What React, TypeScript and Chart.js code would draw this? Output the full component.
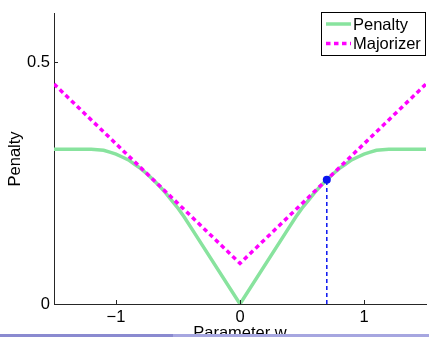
import React, { useEffect, useRef } from "react";
import { Chart, registerables } from "chart.js";

Chart.register(...registerables);

// Parameter w sample positions and the penalty curve
const wValues = [
  -1.5, -1.2, -1.15, -1.1, -1.05, -1.0, -0.95, -0.9, -0.85, -0.8, -0.75, -0.7,
  -0.65, -0.6, -0.55, -0.5, -0.45, -0.4, 0, 0.4, 0.45, 0.5, 0.55, 0.6, 0.65,
  0.7, 0.75, 0.8, 0.85, 0.9, 0.95, 1.0, 1.05, 1.1, 1.15, 1.2, 1.5,
];
const penaltyValues = [
  0.32, 0.32, 0.319, 0.318, 0.314, 0.31, 0.304, 0.298, 0.289, 0.28, 0.269,
  0.257, 0.244, 0.23, 0.214, 0.198, 0.18, 0.16, 0, 0.16, 0.18, 0.198, 0.214,
  0.23, 0.244, 0.257, 0.269, 0.28, 0.289, 0.298, 0.304, 0.31, 0.314, 0.318,
  0.319, 0.32, 0.32,
];

// Majorizer (tangent at the current point)
const majorizerW = [-1.5, 0, 1.5];
const majorizerValues = [0.455, 0.084, 0.455];

// Current point
const currentW = [0.7];
const currentValue = [0.257];

// Tick labels
const xTicks = [-1, 0, 1];
const yTicks = [0, 0.5];

const legendLabels = ["Penalty", "Majorizer"];
const xTitle = "Parameter w";
const yTitle = "Penalty";

const GREEN = "#88e39e";
const MAGENTA = "#ff00ff";
const BLUE = "#0a14f0";
const AXIS = "#262626";
const FONT = "16.5px 'Liberation Sans', Arial, sans-serif";

export default function App() {
  const canvasRef = useRef<HTMLCanvasElement | null>(null);

  useEffect(() => {
    const canvas = canvasRef.current;
    if (!canvas) return;

    const decor = {
      id: "decor",
      afterDatasetsDraw(chart: any) {
        const ctx = chart.ctx;
        const xs = chart.scales.x;
        const ys = chart.scales.y;
        const area = chart.chartArea;
        ctx.save();
        // inward tick marks
        ctx.strokeStyle = AXIS;
        ctx.lineWidth = 1;
        ctx.beginPath();
        xTicks.forEach((t) => {
          const px = Math.round(xs.getPixelForValue(t)) + 0.5;
          ctx.moveTo(px, area.bottom);
          ctx.lineTo(px, area.bottom - 4);
        });
        yTicks.forEach((t) => {
          const py = Math.round(ys.getPixelForValue(t)) + 0.5;
          ctx.moveTo(area.left, py);
          ctx.lineTo(area.left + 4, py);
        });
        ctx.stroke();

        // axis titles
        ctx.fillStyle = "#000";
        ctx.font = FONT;
        ctx.textAlign = "center";
        ctx.textBaseline = "alphabetic";
        ctx.fillText(xTitle, xs.getPixelForValue(0), 337.5);
        ctx.save();
        ctx.translate(19.5, (area.top + area.bottom) / 2);
        ctx.rotate(-Math.PI / 2);
        ctx.fillText(yTitle, 0, 0);
        ctx.restore();

        // legend
        const lx = 321.5;
        const ly = 12.5;
        const lw = 104;
        const lh = 43;
        ctx.fillStyle = "#fff";
        ctx.fillRect(lx, ly, lw, lh);
        ctx.strokeStyle = "#000";
        ctx.lineWidth = 1;
        ctx.strokeRect(lx, ly, lw, lh);
        const rows = [
          { y: 24, color: GREEN, dash: [] as number[] },
          { y: 43.5, color: MAGENTA, dash: [4.5, 3.5] },
        ];
        rows.forEach((r, i) => {
          ctx.strokeStyle = r.color;
          ctx.lineWidth = 3.5;
          ctx.setLineDash(r.dash);
          ctx.beginPath();
          ctx.moveTo(326, r.y);
          ctx.lineTo(351, r.y);
          ctx.stroke();
          ctx.setLineDash([]);
          ctx.fillStyle = "#000";
          ctx.textAlign = "left";
          ctx.textBaseline = "middle";
          ctx.fillText(legendLabels[i], 353, r.y + 1);
        });
        ctx.restore();
      },
    };

    const chart = new Chart(canvas, {
      type: "scatter",
      data: {
        datasets: [
          {
            label: "Current point",
            data: currentW.map((w, i) => ({ x: w, y: currentValue[i] })),
            showLine: false,
            pointRadius: 4,
            pointBackgroundColor: BLUE,
            pointBorderColor: BLUE,
            pointBorderWidth: 0,
            order: 0,
          },
          {
            label: "Current w",
            data: [
              { x: currentW[0], y: 0 },
              { x: currentW[0], y: currentValue[0] },
            ],
            showLine: true,
            borderColor: BLUE,
            borderWidth: 1.5,
            borderDash: [4, 3],
            pointRadius: 0,
            order: 1,
          },
          {
            label: legendLabels[1],
            data: majorizerW.map((w, i) => ({ x: w, y: majorizerValues[i] })),
            showLine: true,
            borderColor: MAGENTA,
            borderWidth: 3.5,
            borderDash: [4.5, 3.5],
            pointRadius: 0,
            order: 2,
          },
          {
            label: legendLabels[0],
            data: wValues.map((w, i) => ({ x: w, y: penaltyValues[i] })),
            showLine: true,
            borderColor: GREEN,
            borderWidth: 3.5,
            pointRadius: 0,
            tension: 0,
            order: 3,
          },
        ],
      },
      options: {
        responsive: false,
        animation: false,
        devicePixelRatio: 1,
        layout: { padding: { top: 8, left: 0, right: 0, bottom: 0 } },
        plugins: {
          legend: { display: false },
          tooltip: { enabled: false },
          title: { display: false },
        },
        scales: {
          x: {
            type: "linear",
            min: -1.5,
            max: 1.5,
            afterFit: (s: any) => {
              s.height = 33;
            },
            afterBuildTicks: (s: any) => {
              s.ticks = xTicks.map((v) => ({ value: v }));
            },
            grid: { display: false, drawTicks: false },
            border: { display: true, color: AXIS, width: 1 },
            ticks: {
              color: "#000",
              padding: 4,
              font: { family: "'Liberation Sans', Arial, sans-serif", size: 16.5 },
              callback: (v: any) => (Number(v) < 0 ? "\u2212" + Math.abs(Number(v)) : String(v)),
              maxRotation: 0,
            },
          },
          y: {
            type: "linear",
            min: 0,
            max: 0.6,
            afterFit: (s: any) => {
              s.width = 54;
            },
            afterBuildTicks: (s: any) => {
              s.ticks = yTicks.map((v) => ({ value: v }));
            },
            grid: { display: false, drawTicks: false },
            border: { display: true, color: AXIS, width: 1 },
            ticks: {
              color: "#000",
              padding: 4,
              font: { family: "'Liberation Sans', Arial, sans-serif", size: 16.5 },
              callback: (v: any) => String(v),
            },
          },
        },
      },
      plugins: [decor],
    });

    return () => chart.destroy();
  }, []);

  return (
    <div
      style={{
        position: "fixed",
        left: 0,
        top: 0,
        width: 429,
        height: 337,
        overflow: "hidden",
        background: "#fff",
      }}
    >
      <canvas ref={canvasRef} width={430} height={337} style={{ display: "block" }} />
      <div
        style={{
          position: "absolute",
          left: 0,
          top: 334,
          width: 173,
          height: 3,
          background: "#8a8ad0",
        }}
      />
      <div
        style={{
          position: "absolute",
          left: 173,
          top: 334,
          width: 256,
          height: 3,
          background: "#a6a6e0",
        }}
      />
    </div>
  );
}
